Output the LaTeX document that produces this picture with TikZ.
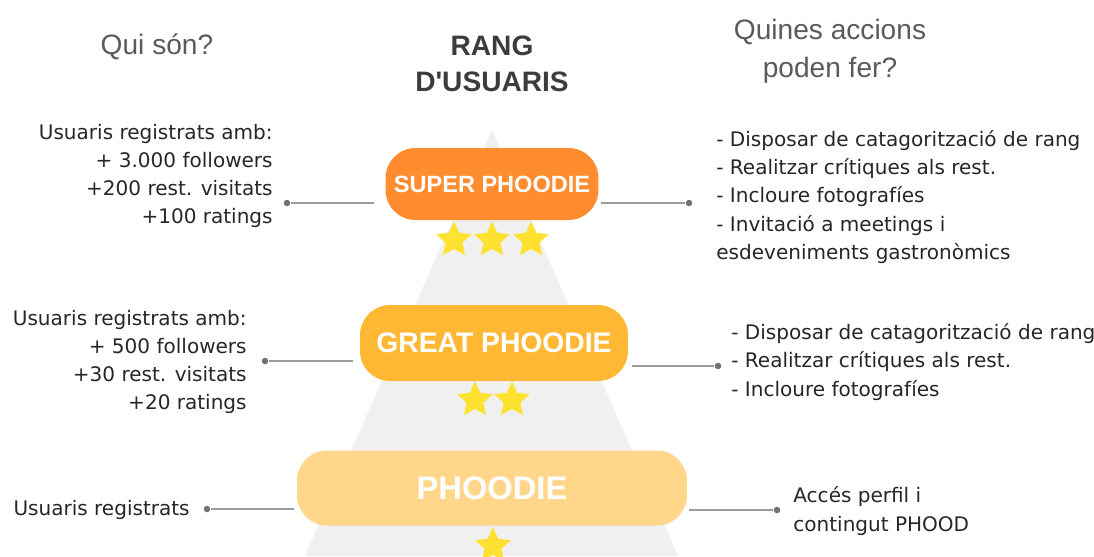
\documentclass[tikz,border=0pt]{standalone}
\usepackage{fontspec}
\setmainfont{DejaVu Sans}
\newfontfamily\headfont{Liberation Sans}
\usetikzlibrary{shapes.geometric}

\definecolor{superorange}{RGB}{255,140,46}
\definecolor{greatorange}{RGB}{255,184,51}
\definecolor{phoodielight}{RGB}{255,214,138}
\definecolor{pyramidgray}{RGB}{240,240,240}
\definecolor{linkgray}{RGB}{155,155,155}
\definecolor{dotgray}{RGB}{115,115,115}
\definecolor{stargold}{RGB}{255,225,50}
\definecolor{textdark}{RGB}{38,38,38}
\definecolor{headgray}{RGB}{90,90,90}
\definecolor{rankgray}{RGB}{60,60,60}

\tikzset{
  rank/.style={fill=#1, rounded corners=0.6cm, text=white, inner sep=0pt},
  ministar/.style={star, star points=5, star point ratio=2.1, fill=stargold, inner sep=0pt, minimum size=0.75cm},
  dotend/.style={circle, fill=dotgray, inner sep=0pt, minimum size=0.13cm},
  link/.style={draw=linkgray, line width=1.1pt},
  info/.style={inner sep=0pt, text=textdark, font=\fontsize{11.4}{16.1}\selectfont},
  heading/.style={inner sep=0pt, align=center, text=headgray, font=\headfont\fontsize{16}{21.6}\selectfont}
}

\begin{document}
\begin{tikzpicture}[x=0.02cm, y=-0.02cm]
    \useasboundingbox (0,0) rectangle (1094,556);
    % pyramid behind the ranks
    \fill[pyramidgray] (492,130) -- (678,556) -- (305,556) -- cycle;

    % column headings
    \node[heading] (who) at (157,47) {Qui són?};
    \node[heading, text=rankgray, font=\headfont\bfseries\fontsize{16}{20.5}\selectfont] (title) at (492,64) {RANG\\D'USUARIS};
    \node[heading] (what) at (830,51) {Quines accions\\poden fer?};

    % ranks
    \node[rank=superorange, minimum width=4.26cm, minimum height=1.44cm, font=\headfont\bfseries\fontsize{13.4}{16}\selectfont] (super) at (492,184) {SUPER PHOODIE};
    \node[rank=greatorange, minimum width=5.36cm, minimum height=1.52cm, font=\headfont\bfseries\fontsize{16.1}{19}\selectfont] (great) at (494,343) {GREAT PHOODIE};
    \node[rank=phoodielight, minimum width=7.8cm, minimum height=1.5cm, font=\headfont\bfseries\fontsize{18.6}{22}\selectfont] (phoodie) at (492,488) {PHOODIE};

    \foreach \x in {454,492,531}
        \node[ministar] (superstar\x) at (\x,240) {};
    \foreach \x in {475,512}
        \node[ministar] (greatstar\x) at (\x,400) {};
    \node[ministar] (phoodiestar) at (493,546) {};

    % who are they
    \node[info, anchor=east, align=right] (superwho) at (273,176) {Usuaris registrats amb:\\+ 3.000 followers\\+200 rest. visitats\\+100 ratings};
    \node[info, anchor=east, align=right] (greatwho) at (247,362) {Usuaris registrats amb:\\+ 500 followers\\+30 rest. visitats\\+20 ratings};
    \node[info, anchor=east] (phoodiewho) at (190,510) {Usuaris registrats};

    % what can they do
    \node[info, anchor=west, align=left] (superwhat) at (716,197) {- Disposar de catagorització de rang\\- Realitzar crítiques als rest.\\- Incloure fotografíes\\- Invitació a meetings i\\esdeveniments gastronòmics};
    \node[info, anchor=west, align=left] (greatwhat) at (731,362) {- Disposar de catagorització de rang\\- Realitzar crítiques als rest.\\- Incloure fotografíes};
    \node[info, anchor=west, align=left] (phoodiewhat) at (793,511) {Accés perfil i\\contingut PHOOD};

    % connectors
    \node[dotend] (superleft) at (287,203) {};
    \node[dotend] (superright) at (689,203) {};
    \node[dotend] (greatleft) at (265,361) {};
    \node[dotend] (greatright) at (718,366) {};
    \node[dotend] (phoodieleft) at (207,509) {};
    \node[dotend] (phoodieright) at (777,510) {};
    \draw[link, shorten >=0.22cm] (superleft) -- (super.west |- superleft);
    \draw[link, shorten >=0.04cm] (superright) -- (super.east |- superright);
    \draw[link, shorten >=0.14cm] (greatleft) -- (great.west |- greatleft);
    \draw[link, shorten >=0.08cm] (greatright) -- (great.east |- greatright);
    \draw[link, shorten >=0.06cm] (phoodieleft) -- (phoodie.west |- phoodieleft);
    \draw[link, shorten >=0.04cm] (phoodieright) -- (phoodie.east |- phoodieright);
\end{tikzpicture}
\end{document}
